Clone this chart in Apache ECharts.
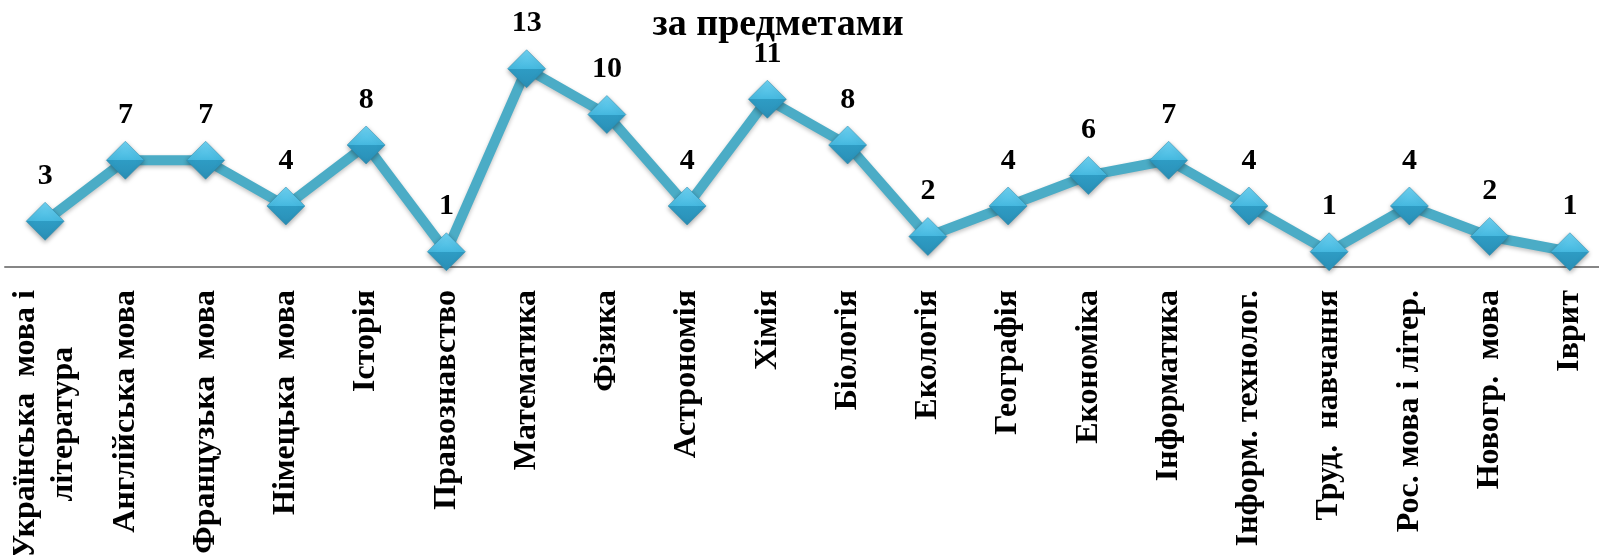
<!DOCTYPE html>
<html><head><meta charset="utf-8">
<script src="https://cdn.jsdelivr.net/npm/echarts@6/dist/echarts.min.js"></script>
<style>html,body{margin:0;padding:0;background:#fff}#c{width:1599px;height:555px}</style>
</head><body><div id="c"></div>
<script>
var titleText = 'за предметами';
var categories = ['Українська  мова і\nлітература','Англійська мова','Французька  мова','Німецька  мова','Історія','Правознавство','Математика','Фізика','Астрономія','Хімія','Біологія','Екологія','Географія','Економіка','Інформатика','Інформ. технолог.','Труд.  навчання','Рос. мова і літер.','Новогр.  мова','Іврит'];
var values = [3,7,7,4,8,1,13,10,4,11,8,2,4,6,7,4,1,4,2,1];

var FONT = '"Liberation Serif","Times New Roman",serif';
var LFS = 32;
var ctx = document.createElement('canvas').getContext('2d');
ctx.font = 'bold ' + LFS + 'px ' + FONT;

function fmt(v){
  if (v.indexOf('\n') < 0) return '{a|' + v + '}';
  var parts = v.split('\n');
  return '{a|' + parts[0] + '}\n{b|' + parts[1] + '}';
}
var firstW = ctx.measureText(categories[0].split('\n')[0]).width;

var chart = echarts.init(document.getElementById('c'));
chart.setOption({
  animation:false,
  title:{text:titleText,left:778,top:6,padding:0,textAlign:'center',textStyle:{fontFamily:FONT,fontWeight:'bold',fontSize:38,color:'#000'}},
  grid:{left:5,right:-11,top:23,bottom:288,containLabel:false,outerBoundsMode:'none'},
  xAxis:{type:'category',data:categories,boundaryGap:true,
    axisLine:{onZero:false,lineStyle:{color:'#868686',width:2}},
    axisTick:{show:false},
    axisLabel:{interval:0,rotate:90,margin:23,color:'#000',fontFamily:FONT,fontWeight:'bold',fontSize:LFS,lineHeight:38,
      formatter:fmt,
      rich:{a:{fontFamily:FONT,fontWeight:'bold',fontSize:LFS,color:'#000',lineHeight:38},
            b:{fontFamily:FONT,fontWeight:'bold',fontSize:LFS,color:'#000',lineHeight:38,width:firstW,align:'center'}}}},
  yAxis:{type:'value',min:0,max:16,show:false,splitLine:{show:false}},
  series:[{type:'line',data:values,
    lineStyle:{color:'#4BACC6',width:10,shadowColor:'rgba(0,0,0,0.25)',shadowBlur:4,shadowOffsetY:2},
    symbol:'diamond',symbolSize:[38,38],
    itemStyle:{color:{type:'linear',x:0,y:0,x2:0,y2:1,colorStops:[
      {offset:0,color:'#6fd3f3'},{offset:0.5,color:'#45b8df'},{offset:0.5,color:'#2e9cc4'},{offset:1,color:'#2a8fb6'}]},
      borderColor:'#2a86a8',borderWidth:0.5,shadowColor:'rgba(0,0,0,0.35)',shadowBlur:5,shadowOffsetY:2},
    label:{show:true,position:'top',distance:11,color:'#000',fontFamily:FONT,fontWeight:'bold',fontSize:30}
  }]
});
</script></body></html>
